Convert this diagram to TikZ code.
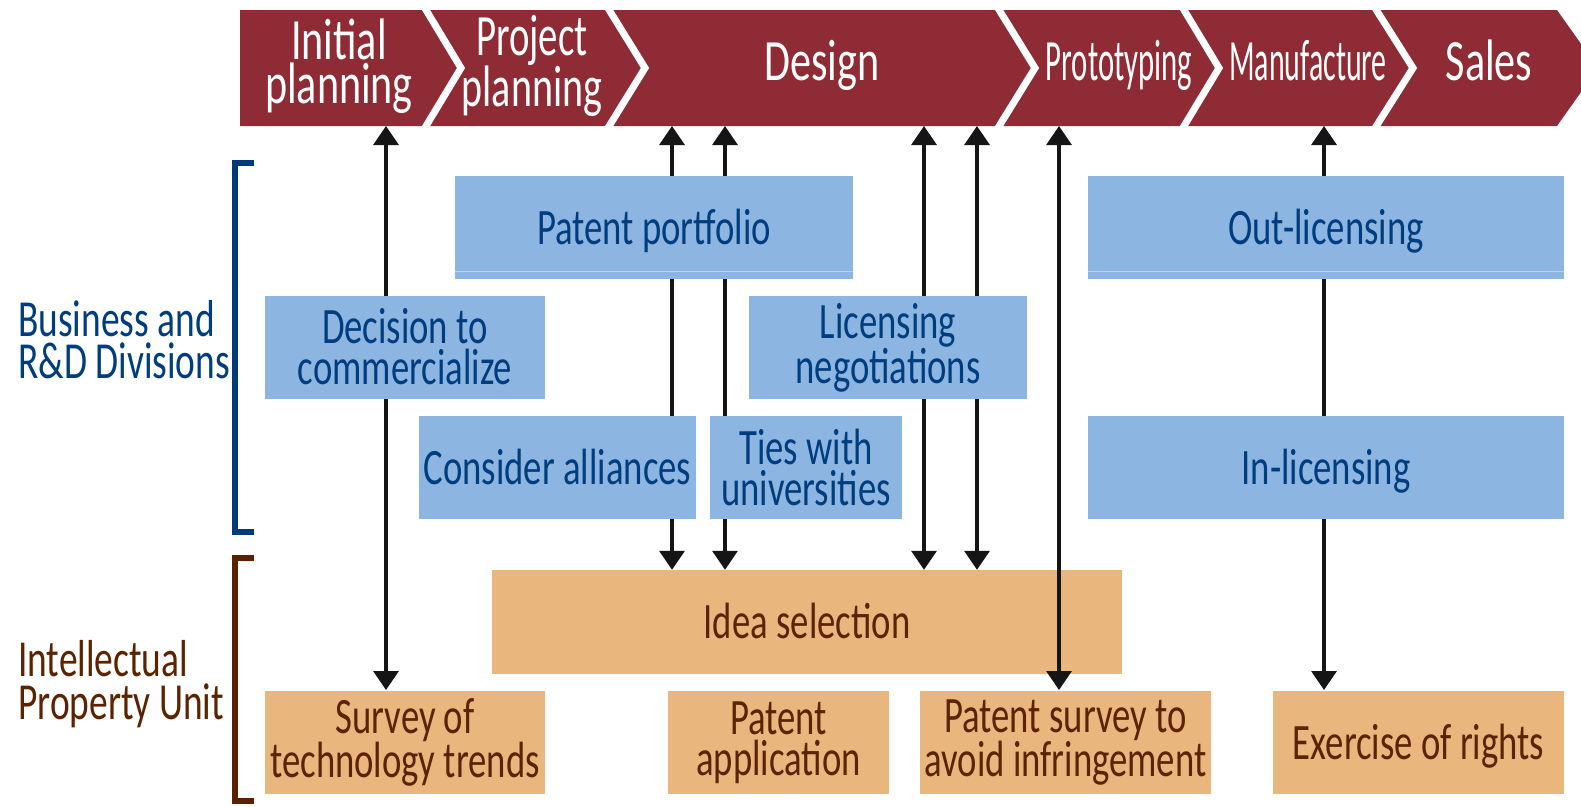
\documentclass[tikz,border=0pt]{standalone}
\usepackage{fontspec}
\setmainfont[FakeStretch=0.72]{Carlito}
\usetikzlibrary{arrows.meta}
\definecolor{bannerred}{HTML}{8E2B34}
\definecolor{boxblue}{HTML}{8CB6E1}
\definecolor{boxorange}{HTML}{E9B77D}
\definecolor{txtblue}{HTML}{003D7F}
\definecolor{txtbrown}{HTML}{5C2300}
\definecolor{arrowblack}{HTML}{151515}
\definecolor{brktblue}{HTML}{003A78}
\definecolor{brktbrown}{HTML}{5A2000}
\definecolor{seam}{HTML}{B8D2EE}
\tikzset{
  boxbase/.style={inner sep=0pt, align=center, minimum height=103pt,
    font=\fontsize{51}{41}\selectfont},
  bluebox/.style={boxbase, fill=boxblue, text=txtblue},
  orgbox/.style={boxbase, fill=boxorange, text=txtbrown},
  oneline/.style={text height=33pt, text depth=0pt},
  phase/.style={text=white, align=center, inner sep=0pt,
    font=\fontsize{58.5}{44}\selectfont},
  sideleft/.style={anchor=base west, inner sep=0pt,
    font=\fontsize{52}{42}\selectfont},
  dblarrow/.style={{Triangle[width=25pt,length=19pt]}-{Triangle[width=25pt,length=19pt]},
    line width=3.3pt, draw=arrowblack},
  sepline/.style={draw=white, line width=7pt, line join=miter},
  bracketline/.style={line width=6pt, line join=miter}
}
\begin{document}
\begin{tikzpicture}[x=1pt,y=-1pt]
\useasboundingbox (0,0) rectangle (1581,806);
% banner
\begin{scope}
\clip (0,0) rectangle (1581,806);
\fill[bannerred] (240,10) -- (1557,10) -- (1598,68) -- (1557,126) -- (240,126) -- cycle;
\end{scope}
\draw[sepline] (420,0) -- (461,68) -- (420,136);
\draw[sepline] (603,0) -- (645,68) -- (603,136);
\draw[sepline] (993,0) -- (1035,68) -- (993,136);
\draw[sepline] (1178,0) -- (1219,68) -- (1178,136);
\draw[sepline] (1370,0) -- (1413,68) -- (1370,136);
% phase labels
\node[phase] (ph1) at (339,66) {Initial\\planning};
\node[phase] (ph2) at (532,66) {\scalebox{0.92}[1]{Project}\\\scalebox{0.95}[1]{planning}};
\node[phase, anchor=base] (ph3) at (822,80) {Design};
\node[phase, anchor=base] (ph4) at (1119,80) {\scalebox{0.73}[1]{Prototyping}};
\node[phase, anchor=base] (ph5) at (1308,80) {\scalebox{0.71}[1]{Manufacture}};
\node[phase, anchor=base] (ph6) at (1489,80) {Sales};
% banner anchor coordinates
\coordinate (b1) at (386,126);
\coordinate (b2) at (672,126);
\coordinate (b3) at (725,126);
\coordinate (b4) at (924,126);
\coordinate (b5) at (977,126);
\coordinate (b6) at (1059,126);
\coordinate (b7) at (1324,126);
% idea selection (under arrows)
\node[orgbox, minimum width=630pt, minimum height=104pt] (idea) at (807,622) {};
\node[orgbox, oneline, fill=none] (ideat) at (idea.center) {Idea selection};
% arrows
\draw[dblarrow] (b1) -- (b1 |- 0,690);
\draw[dblarrow] (b2) -- (b2 |- idea.north);
\draw[dblarrow] (b3) -- (b3 |- idea.north);
\draw[dblarrow] (b4) -- (b4 |- idea.north);
\draw[dblarrow] (b5) -- (b5 |- idea.north);
\draw[dblarrow] (b6) -- (b6 |- 0,690);
\draw[dblarrow] (b7) -- (b7 |- 0,690);
% blue boxes
\node[bluebox, oneline, minimum width=398pt] (pp) at (654,227.5) {Patent portfolio};
\node[bluebox, minimum width=280pt] (dec) at (405,347) {Decision to\\commercialize};
\node[bluebox, minimum width=278pt] (lic) at (888,347.5) {Licensing\\negotiations};
\node[bluebox, oneline, minimum width=277pt] (con) at (557.5,467.5) {Consider alliances};
\node[bluebox, minimum width=192pt] (ties) at (806,467.5) {Ties with\\universities};
\node[bluebox, oneline, minimum width=476pt] (out) at (1326,227.5) {Out-licensing};
\node[bluebox, oneline, minimum width=476pt] (inl) at (1326,467.5) {In-licensing};
\draw[seam, line width=1pt] (pp.west |- 0,271) -- (pp.east |- 0,271);
\draw[seam, line width=1pt] (out.west |- 0,271) -- (out.east |- 0,271);
% orange boxes
\node[orgbox, minimum width=280pt] (svy) at (405,742.5) {Survey of\\technology trends};
\node[orgbox, minimum width=221pt] (papp) at (778.5,742.5) {Patent\\application};
\node[orgbox, minimum width=291pt] (psur) at (1065.5,742.5) {Patent survey to\\avoid infringement};
\node[orgbox, oneline, minimum width=291pt] (exr) at (1418.5,742.5) {Exercise of rights};
% side labels
\node[sideleft, text=txtblue] (bl1) at (18,336) {Business and};
\node[sideleft, text=txtblue] (bl2) at (18,378) {R\&D Divisions};
\node[sideleft, text=txtbrown] (ip1) at (18,676) {Intellectual};
\node[sideleft, text=txtbrown] (ip2) at (18,719) {Property Unit};
% brackets
\draw[bracketline, brktblue] (254,163) -- (234.5,163) -- (234.5,532) -- (254,532);
\draw[bracketline, brktbrown] (254,558) -- (234.5,558) -- (234.5,801) -- (254,801);
\end{tikzpicture}
\end{document}
